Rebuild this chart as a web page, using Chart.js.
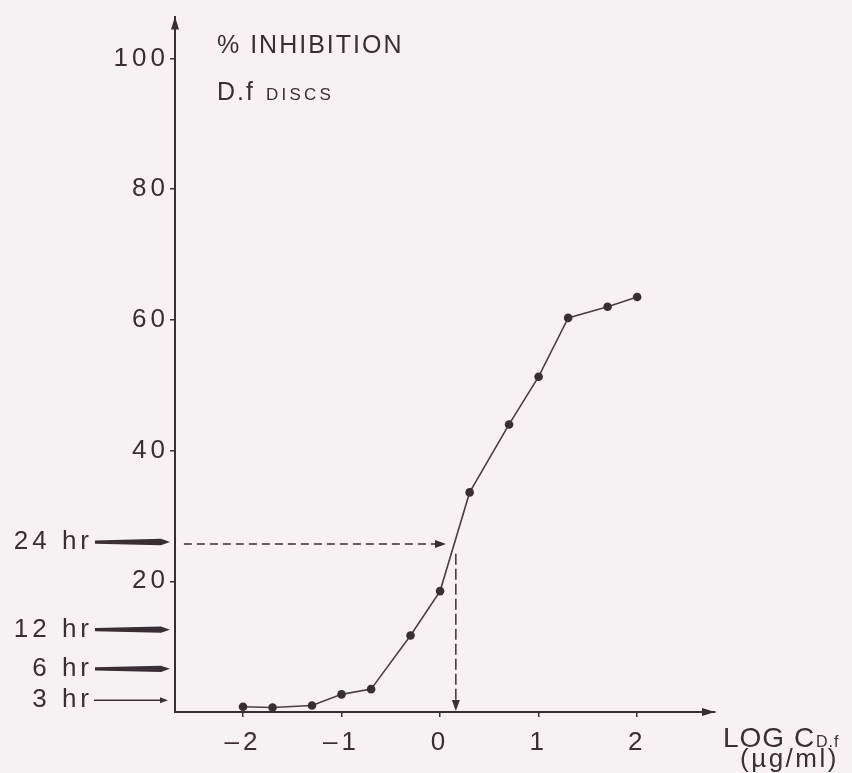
<!DOCTYPE html>
<html>
<head>
<meta charset="utf-8">
<script src="https://cdn.jsdelivr.net/npm/chart.js@4.4.1/dist/chart.umd.min.js"></script>
<style>
    html, body { margin: 0; padding: 0; background: #f6f2f4; }
    canvas { display: block; }
</style>
</head>
<body>
<canvas id="chart" width="852" height="773"></canvas>
<script>
// log concentration of D.f (ug/ml) and % inhibition
const logConc = [-2, -1.7, -1.3, -1, -0.7, -0.3, 0, 0.3, 0.7, 1, 1.3, 1.7, 2];
const inhibition = [0.8, 0.7, 1.0, 2.7, 3.5, 11.7, 18.5, 33.6, 44.0, 51.3, 60.3, 62.0, 63.5];

const xTicks = [-2, -1, 0, 1, 2];
const yTicks = [20, 40, 60, 80, 100];

// time markers on the left of the y axis
const hrLabels = ['24 hr', '12 hr', '6 hr', '3 hr'];
const hrLevels = [26, 12.6, 6.6, 1.8];

// dashed read-off for the 24 hr level
const readLevel = 25.7;
const readFrom = -2.6;
const readTo = 0.06;
const readDrop = 0.16;
const readDropTop = 24.2;

const INK = '#382e34';
const LINE = '#4a3f45';
const FONT = '"Liberation Sans", Arial, sans-serif';

function tickLabel(v) {
    return v < 0 ? '\u2013' + Math.abs(v) : String(v);
}

function arrowHead(ctx, x, y, dir, len, half) {
    ctx.beginPath();
    if (dir === 'right') {
        ctx.moveTo(x, y);
        ctx.lineTo(x - len, y - half);
        ctx.lineTo(x - len, y + half);
    } else if (dir === 'up') {
        ctx.moveTo(x, y);
        ctx.lineTo(x - half, y + len);
        ctx.lineTo(x + half, y + len);
    } else {
        ctx.moveTo(x, y);
        ctx.lineTo(x - half, y - len);
        ctx.lineTo(x + half, y - len);
    }
    ctx.closePath();
    ctx.fill();
}

function text(ctx, str, x, y, size, spacing, align) {
    ctx.font = size + 'px ' + FONT;
    ctx.letterSpacing = spacing + 'px';
    ctx.textAlign = align || 'left';
    ctx.textBaseline = 'alphabetic';
    ctx.fillText(str, x, y);
}

const decor = {
    id: 'decor',
    beforeDraw(chart) {
        chart.ctx.letterSpacing = '4px';
    },
    afterDraw(chart) {
        const { ctx, chartArea: a, scales: { x, y } } = chart;
        ctx.save();
        ctx.fillStyle = INK;
        ctx.strokeStyle = INK;

        // axis arrow heads
        arrowHead(ctx, a.left, a.top, 'up', 13, 4);
        arrowHead(ctx, a.right, a.bottom, 'right', 13, 4);

        // read-off arrow heads
        arrowHead(ctx, x.getPixelForValue(readTo), y.getPixelForValue(readLevel), 'right', 11, 4);
        arrowHead(ctx, x.getPixelForValue(readDrop), a.bottom - 1, 'down', 11, 4);

        // time markers
        const x0 = 95;
        const x1 = a.left - 5;
        hrLevels.forEach((lv, i) => {
            const py = y.getPixelForValue(lv);
            if (i < 3) {
                ctx.beginPath();
                ctx.moveTo(x0, py - 1.6);
                ctx.lineTo(x1 - 9, py - 3.2);
                ctx.lineTo(x1, py);
                ctx.lineTo(x1 - 9, py + 3.2);
                ctx.lineTo(x0, py + 1.6);
                ctx.closePath();
                ctx.fill();
            } else {
                ctx.lineWidth = 1.5;
                ctx.beginPath();
                ctx.moveTo(x0 - 1, py);
                ctx.lineTo(x1 - 8, py);
                ctx.stroke();
                arrowHead(ctx, x1 - 2, py, 'right', 8, 3);
            }
            text(ctx, hrLabels[i], 93, py + 7, 26, 4, 'right');
        });

        // titles
        text(ctx, '% INHIBITION', 217, 53, 25, 2);
        text(ctx, 'D.f', 217, 100, 25, 2);
        text(ctx, 'DISCS', 266, 100, 17, 3.2);
        text(ctx, 'LOG C', 723, 747, 28, 1);
        text(ctx, 'D.f', 816, 747, 16, 1);
        text(ctx, '(\u00b5g/ml)', 740, 767, 26, 2.5);

        ctx.restore();
        ctx.letterSpacing = '0px';
    }
};

new Chart(document.getElementById('chart'), {
    type: 'scatter',
    data: {
        datasets: [{
            data: logConc.map((v, i) => ({ x: v, y: inhibition[i] })),
            showLine: true,
            borderColor: LINE,
            borderWidth: 1.6,
            pointRadius: 4.3,
            pointBackgroundColor: INK,
            pointBorderWidth: 0,
            clip: false,
        }, {
            data: [{ x: readFrom, y: readLevel }, { x: readTo - 0.08, y: readLevel }],
            showLine: true,
            borderColor: INK,
            borderWidth: 1.5,
            borderDash: [8, 5],
            pointRadius: 0,
        }, {
            data: [{ x: readDrop, y: readDropTop }, { x: readDrop, y: 1.5 }],
            showLine: true,
            borderColor: INK,
            borderWidth: 1.5,
            borderDash: [11, 4],
            pointRadius: 0,
        }]
    },
    options: {
        responsive: false,
        animation: false,
        events: [],
        layout: {
            padding: { top: 12, right: 137, bottom: 0, left: 0 }
        },
        plugins: {
            legend: { display: false },
            tooltip: { enabled: false },
        },
        scales: {
            x: {
                type: 'linear',
                min: -2.69,
                max: 2.79,
                afterBuildTicks: s => { s.ticks = xTicks.map(value => ({ value })); },
                afterFit: s => { s.height = 61; },
                border: { display: true, color: INK, width: 2 },
                grid: {
                    display: true,
                    drawOnChartArea: false,
                    drawTicks: true,
                    tickLength: 5,
                    color: INK,
                    lineWidth: 1.5,
                },
                ticks: {
                    color: INK,
                    font: { family: FONT, size: 26 },
                    padding: 10,
                    autoSkip: false,
                    maxRotation: 0,
                    callback: tickLabel,
                },
            },
            y: {
                min: 0,
                max: 106.4,
                afterBuildTicks: s => { s.ticks = yTicks.map(value => ({ value })); },
                afterFit: s => { s.width = 175; },
                border: { display: true, color: INK, width: 2 },
                grid: {
                    display: true,
                    drawOnChartArea: false,
                    drawTicks: true,
                    tickLength: 5,
                    color: INK,
                    lineWidth: 1.5,
                },
                ticks: {
                    color: INK,
                    font: { family: FONT, size: 26 },
                    padding: 1,
                    autoSkip: false,
                },
            }
        }
    },
    plugins: [decor]
});
</script>
</body>
</html>
